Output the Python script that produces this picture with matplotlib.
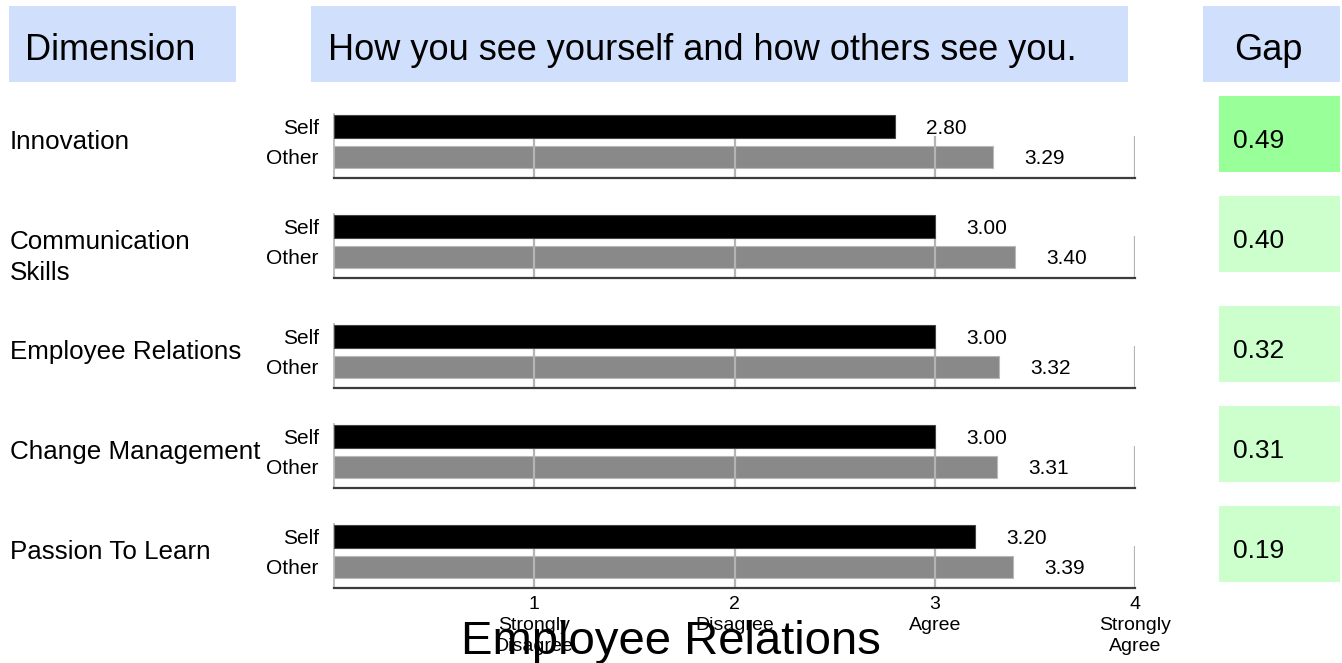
import matplotlib.pyplot as plt
from matplotlib.patches import Rectangle

plt.rcParams['font.family'] = ['Liberation Sans', 'DejaVu Sans']

dimensions = ["Innovation", "Communication\nSkills", "Employee Relations",
              "Change Management", "Passion To Learn"]
self_scores = [2.80, 3.00, 3.00, 3.00, 3.20]
other_scores = [3.29, 3.40, 3.32, 3.31, 3.39]
gaps = [0.49, 0.40, 0.32, 0.31, 0.19]
scale_ticks = [1, 2, 3, 4]
scale_labels = ["1\nStrongly\nDisagree", "2\nDisagree", "3\nAgree", "4\nStrongly\nAgree"]
headers = ["Dimension", "How you see yourself and how others see you.", "Gap"]
title = "Employee Relations"

W, H = 1342, 663
fig = plt.figure(figsize=(W / 100, H / 100), dpi=100)


def fx(x):
    return x / W


def fy(y):
    return 1 - y / H


def box(x0, y0, x1, y1, color):
    fig.patches.append(Rectangle((fx(x0), fy(y1)), fx(x1) - fx(x0), fy(y0) - fy(y1),
                                 transform=fig.transFigure, facecolor=color,
                                 edgecolor='none', zorder=0))


# header boxes
header_blue = '#cfdffc'
header_boxes = [(9, 236, 25), (311, 1128, 328), (1203, 1340, 1234)]
for (x0, x1, tx), txt in zip(header_boxes, headers):
    box(x0, 6, x1, 82, header_blue)
    fig.text(fx(tx), fy(60), txt, fontsize=26, va='baseline', ha='left')

# rows: pixel y of the bottom axis line of each panel
row_axis = [178, 278, 388, 488, 588]
ax_left, ax_right = 334, 1135
ymin, ymax = -0.69, 1.40
px_per_unit = 30.5

for i, base in enumerate(row_axis):
    top = base - (ymax - ymin) * px_per_unit
    ax = fig.add_axes([fx(ax_left), fy(base), fx(ax_right) - fx(ax_left), fy(top) - fy(base)])
    ax.set_xlim(0, 4)
    ax.set_ylim(ymin, ymax)
    ax.barh(0, other_scores[i], height=0.74, color='#898989', edgecolor='#b8b8b8',
            linewidth=0.8, zorder=1)
    ax.vlines(scale_ticks, ymin, 0.7, color='#b4b4b4', linewidth=1.6, zorder=2)
    ax.barh(1, self_scores[i], height=0.74, color='black', edgecolor='#444444',
            linewidth=0.8, zorder=3)
    for yv, v in [(1, self_scores[i]), (0, other_scores[i])]:
        ax.text(v + 0.155, yv, f"{v:.2f}", fontsize=15, va='center_baseline', ha='left')

    for s in ['top', 'right']:
        ax.spines[s].set_visible(False)
    ax.spines['left'].set_color('#b4b4b4')
    ax.spines['left'].set_linewidth(1.2)
    ax.spines['bottom'].set_color('#3c3c3c')
    ax.spines['bottom'].set_linewidth(1.6)
    ax.set_yticks([1, 0], ['Self', 'Other'])
    ax.tick_params(axis='y', length=0, pad=11, labelsize=15)
    ax.set_xticks(scale_ticks)
    if i == len(row_axis) - 1:
        ax.set_xticklabels(scale_labels, fontsize=14, linespacing=1.3)
        ax.tick_params(axis='x', length=0, pad=6)
    else:
        ax.tick_params(axis='x', length=0, labelbottom=False)

    # dimension label
    lines = dimensions[i].split("\n")
    for k, line in enumerate(lines):
        fig.text(fx(10), fy(base - 29 + 31 * k), line, fontsize=18.7,
                 va='baseline', ha='left')

    # gap box
    color = '#99ff99' if gaps[i] == max(gaps) else '#ccffcc'
    box(1219, base - 82, 1340, base - 6, color)
    fig.text(fx(1233), fy(base - 30), f"{gaps[i]:.2f}", fontsize=19,
             va='baseline', ha='left')

fig.text(0.5, fy(654), title, fontsize=34, va='baseline', ha='center')

fig.savefig("out.png", dpi=100)
